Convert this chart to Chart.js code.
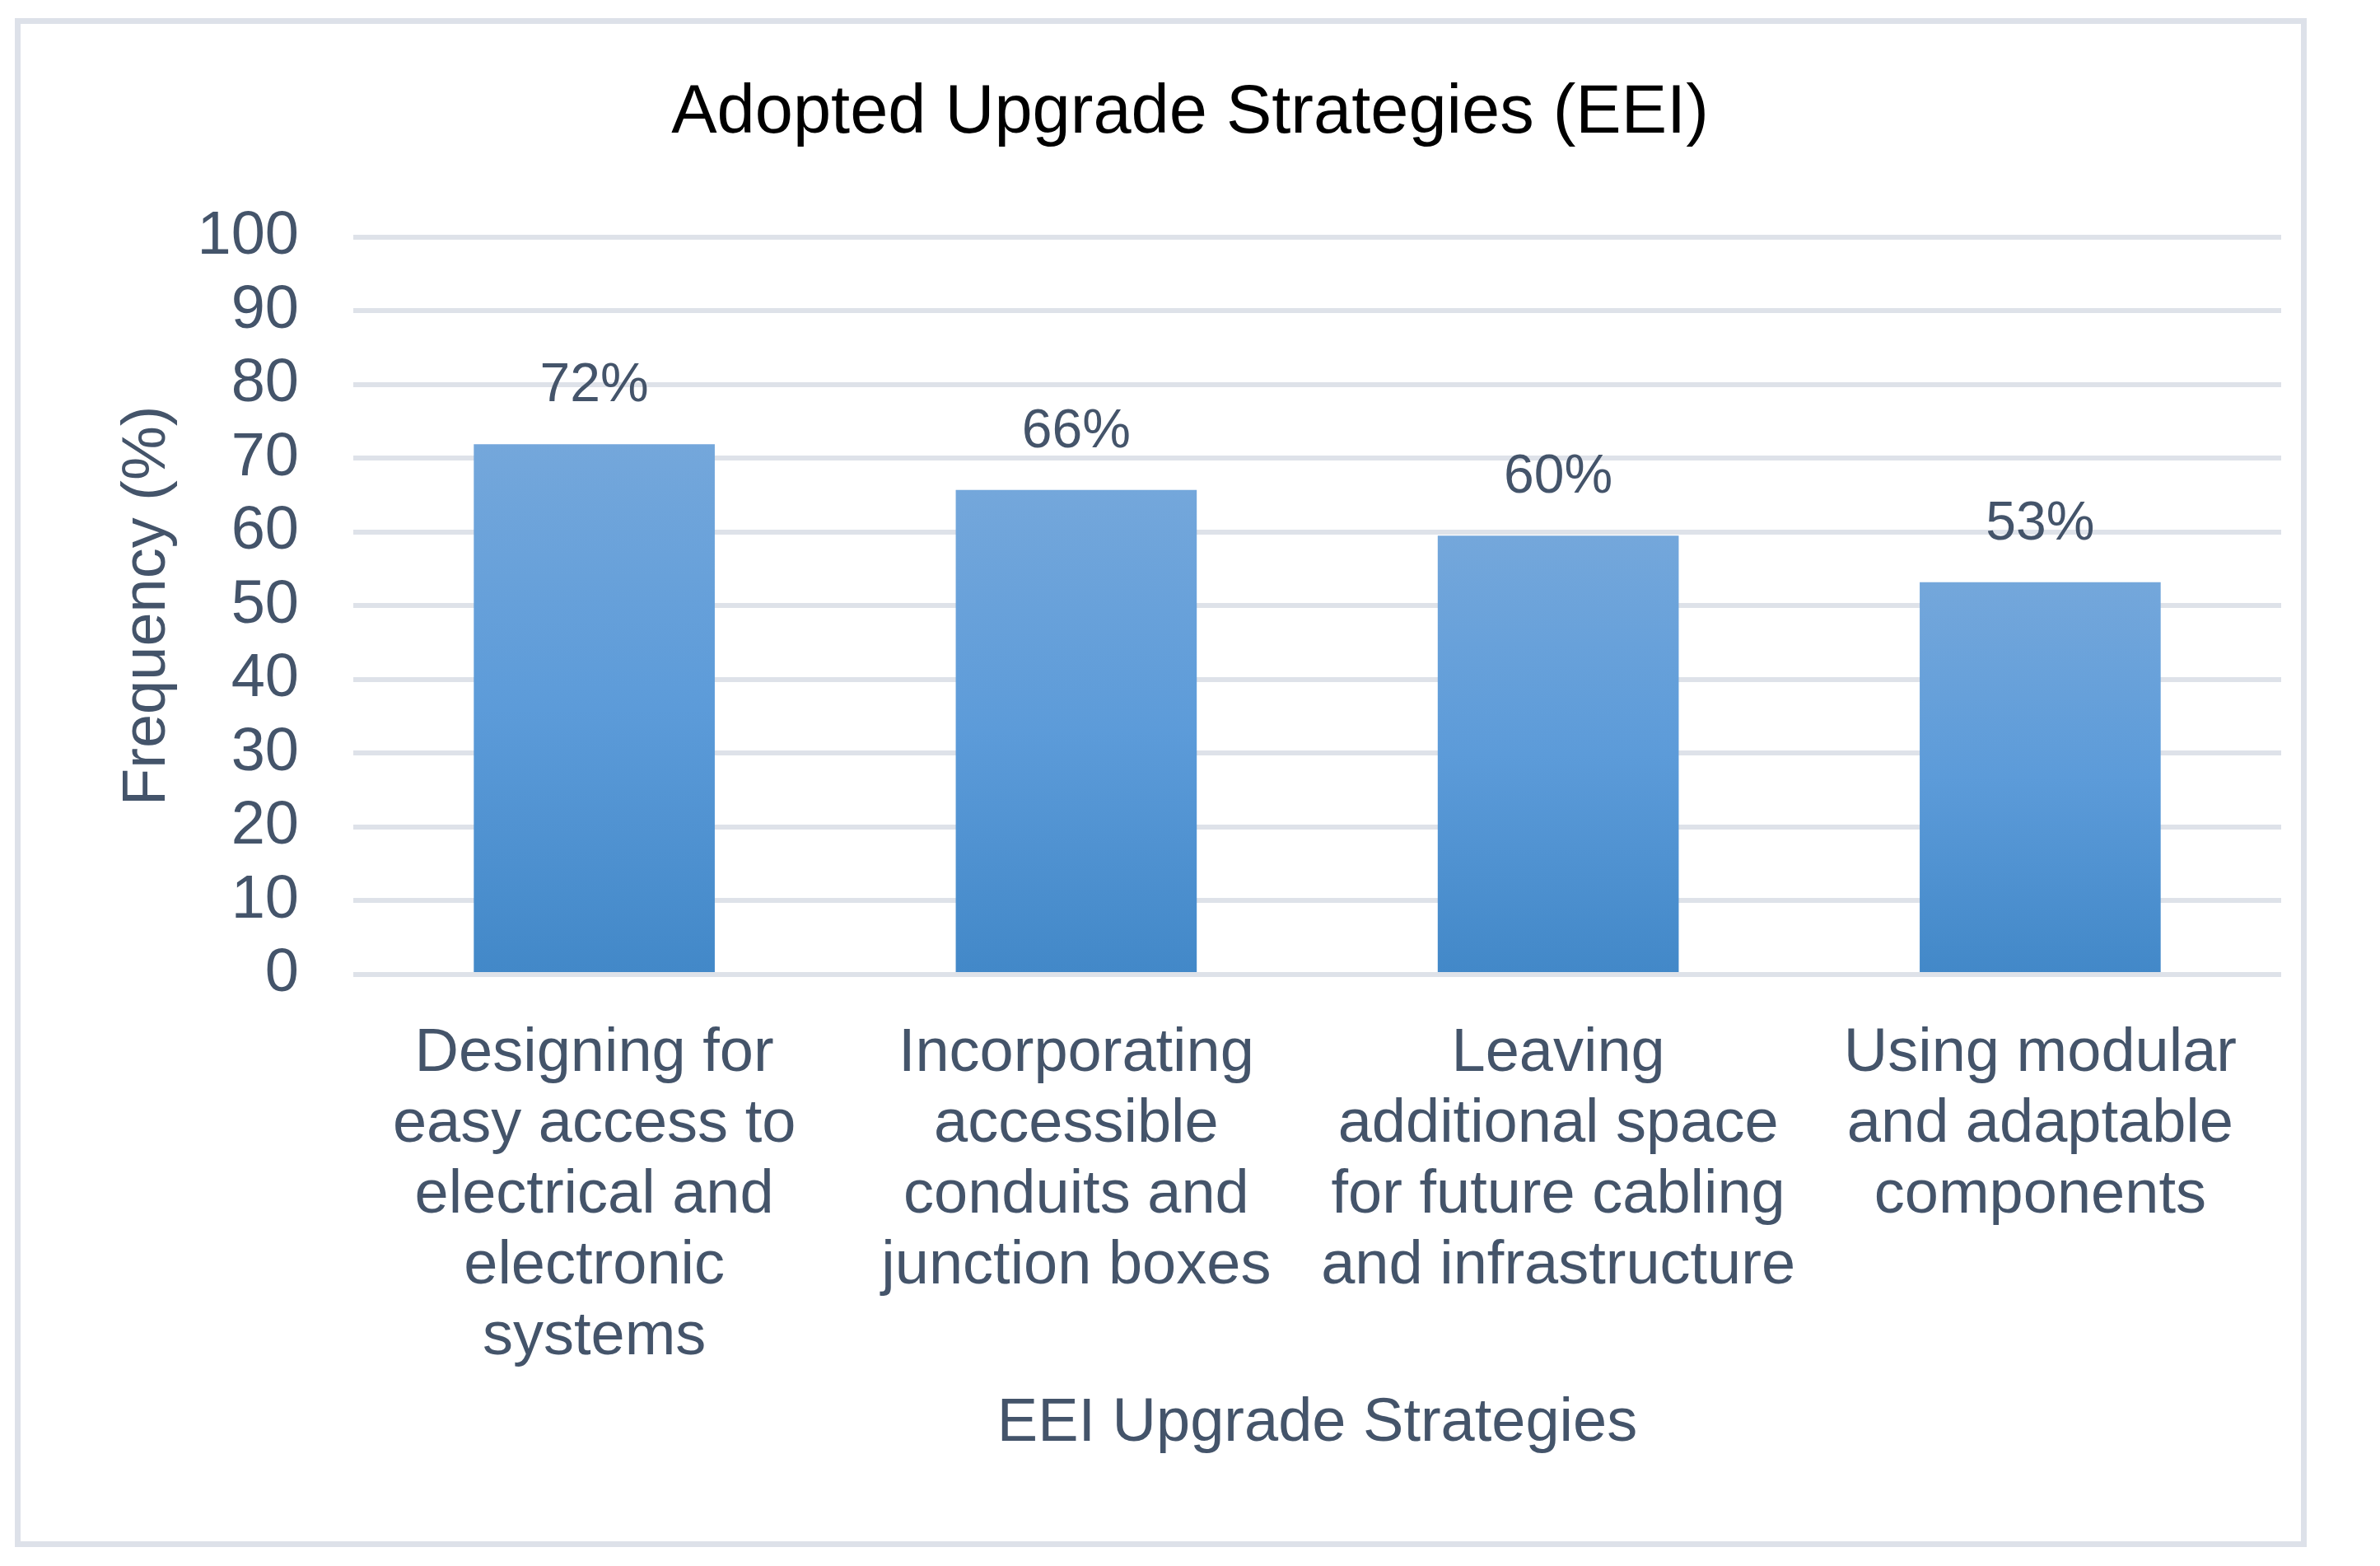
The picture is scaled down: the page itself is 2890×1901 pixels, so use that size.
<!doctype html>
<html lang="en">
<head>
<meta charset="utf-8">
<title>Adopted Upgrade Strategies (EEI)</title>
<script src="https://cdn.jsdelivr.net/npm/chart.js@4.4.1/dist/chart.umd.min.js"></script>
<style>
  html, body { margin: 0; padding: 0; background: #fff; }
  #frame { position: absolute; left: 18px; top: 22px; width: 2783px; height: 1856px; box-sizing: border-box; border: 7px solid #dde1e9; }
  #chart { position: absolute; left: 0; top: 0; }
</style>
</head>
<body>
<div id="frame"></div>
<canvas id="chart" width="2890" height="1901"></canvas>
<script>
var categories = [
  ["Designing for", "easy access to", "electrical and", "electronic", "systems"],
  ["Incorporating", "accessible", "conduits and", "junction boxes"],
  ["Leaving", "additional space", "for future cabling", "and infrastructure"],
  ["Using modular", "and adaptable", "components"]
];
var frequency = [71.9, 65.7, 59.5, 53.2];
var valueLabels = ["72%", "66%", "60%", "53%"];
var yMin = 0, yMax = 100, yStep = 10;

var textColor = "#44546a";
var fontFamily = "'Liberation Sans', Arial, sans-serif";

// bar fill: lighter at the top, darker at the base (per bar)
function barGradient(context) {
  var chart = context.chart;
  if (!chart.chartArea) return "#5b9bd5";
  var y = chart.scales.y;
  var top = y.getPixelForValue(context.raw);
  var bottom = y.getPixelForValue(0);
  var g = chart.ctx.createLinearGradient(0, top, 0, bottom);
  g.addColorStop(0, "#74a7db");
  g.addColorStop(0.5, "#5c9bd9");
  g.addColorStop(1, "#4288c8");
  return g;
}

var valueLabelPlugin = {
  id: "valueLabels",
  afterDatasetsDraw: function (chart) {
    var ctx = chart.ctx;
    var meta = chart.getDatasetMeta(0);
    ctx.save();
    ctx.font = "66px " + fontFamily;
    ctx.fillStyle = textColor;
    ctx.textAlign = "center";
    ctx.textBaseline = "alphabetic";
    meta.data.forEach(function (bar, i) {
      ctx.fillText(valueLabels[i], bar.x, bar.y - 52);
    });
    ctx.restore();
  }
};

var ctx = document.getElementById("chart").getContext("2d");
var myChart = new Chart(ctx, {
  type: "bar",
  data: {
    labels: categories,
    datasets: [{
      data: frequency,
      backgroundColor: barGradient,
      borderWidth: 0,
      barPercentage: 0.5,
      categoryPercentage: 1.0
    }]
  },
  plugins: [valueLabelPlugin],
  options: {
    responsive: false,
    animation: false,
    devicePixelRatio: 1,
    layout: { padding: { top: 0, left: 120, right: 120, bottom: 100 } },
    plugins: {
      legend: { display: false },
      tooltip: { enabled: false },
      title: {
        display: true,
        text: "Adopted Upgrade Strategies (EEI)",
        color: "#000000",
        font: { family: fontFamily, size: 83, weight: "normal" },
        padding: { top: 88, bottom: 100 }
      }
    },
    scales: {
      x: {
        grid: { display: false },
        border: { display: false },
        ticks: {
          color: textColor,
          font: { family: fontFamily, size: 74, lineHeight: 86 / 74 },
          padding: 46,
          autoSkip: false,
          maxRotation: 0,
          minRotation: 0
        },
        title: {
          display: true,
          text: "EEI Upgrade Strategies",
          color: textColor,
          font: { family: fontFamily, size: 74 },
          padding: { top: 0, bottom: 27.6 }
        },
        afterFit: function (scale) { scale.height = 618; }
      },
      y: {
        min: yMin,
        max: yMax,
        grid: { color: "#dee2e9", lineWidth: 6, drawTicks: false },
        border: { display: false },
        ticks: {
          stepSize: yStep,
          autoSkip: false,
          color: textColor,
          font: { family: fontFamily, size: 74 },
          padding: 66
        },
        title: {
          display: true,
          text: "Frequency (%)",
          color: textColor,
          font: { family: fontFamily, size: 74 },
          padding: { top: 15, bottom: 0 }
        },
        afterFit: function (scale) { scale.width = 309; }
      }
    }
  }
});
</script>
</body>
</html>
